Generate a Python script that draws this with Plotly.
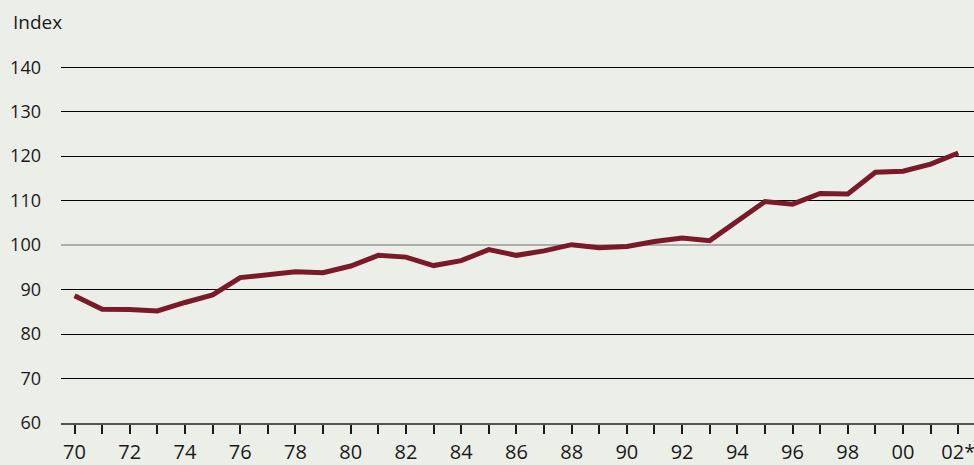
import plotly.graph_objects as go

# Index values, 1970-2002 (2002 provisional)
years = list(range(1970, 2003))
index_values = [88.6, 85.6, 85.5, 85.2, 87.1, 88.8, 92.7, 93.4, 94.0, 93.8,
                95.3, 97.7, 97.3, 95.4, 96.5, 99.0, 97.7, 98.7, 100.1, 99.4,
                99.7, 100.8, 101.6, 101.0, 105.3, 109.8, 109.2, 111.6, 111.5, 116.4,
                116.6, 118.2, 120.7]

# tick labels every second year, tick marks every year
tick_years = years
tick_text = [("02*" if y == 2002 else f"{y % 100:02d}") if (y - 1970) % 2 == 0 else "" for y in years]
y_ticks = [60, 70, 80, 90, 100, 110, 120, 130, 140]
base_level = 100

fig = go.Figure()
fig.add_trace(go.Scatter(x=years, y=index_values, mode="lines",
                         line=dict(color="#7a1a28", width=5),
                         hoverinfo="x+y"))

# base line at 100 in grey (other grid lines black)
fig.add_hline(y=base_level, line_color="#9a9a9a", line_width=1.5, layer="below")

fig.update_layout(
    width=974, height=465,
    margin=dict(l=61, r=0, t=65, b=42),
    paper_bgcolor="#eceee8", plot_bgcolor="#eceee8",
    font=dict(family="Open Sans, Noto Sans, sans-serif", size=17, color="#1a1a1a"),
    showlegend=False,
    annotations=[dict(text="Index", x=0, y=1, xref="paper", yref="paper",
                      xanchor="left", yanchor="top", showarrow=False,
                      font=dict(size=19), xshift=-50, yshift=58)],
)
fig.update_xaxes(range=[1969.51, 2002.57], tickvals=tick_years, ticktext=tick_text,
                 ticks="outside", ticklen=9, tickcolor="#1a1a1a", tickwidth=1.5,
                 tickfont=dict(size=20), ticklabeloverflow="allow", automargin=False,
                 showline=True, linecolor="#555555", linewidth=1.5,
                 showgrid=False, zeroline=False, ticklabelstandoff=1)
fig.update_yaxes(range=[60, 140.5], tickvals=y_ticks, showgrid=False,
                 zeroline=False, tickfont=dict(size=18), automargin=False,
                 ticks="", ticklabelstandoff=19,
                 minor=dict(tickvals=[v for v in y_ticks if v != base_level],
                            showgrid=True, gridcolor="#000000", gridwidth=1, ticks=""))

# page without body margin so the figure fills the window
fig.write_html("out.html", config={"displayModeBar": False},
               post_script="document.body.style.margin='0';")
